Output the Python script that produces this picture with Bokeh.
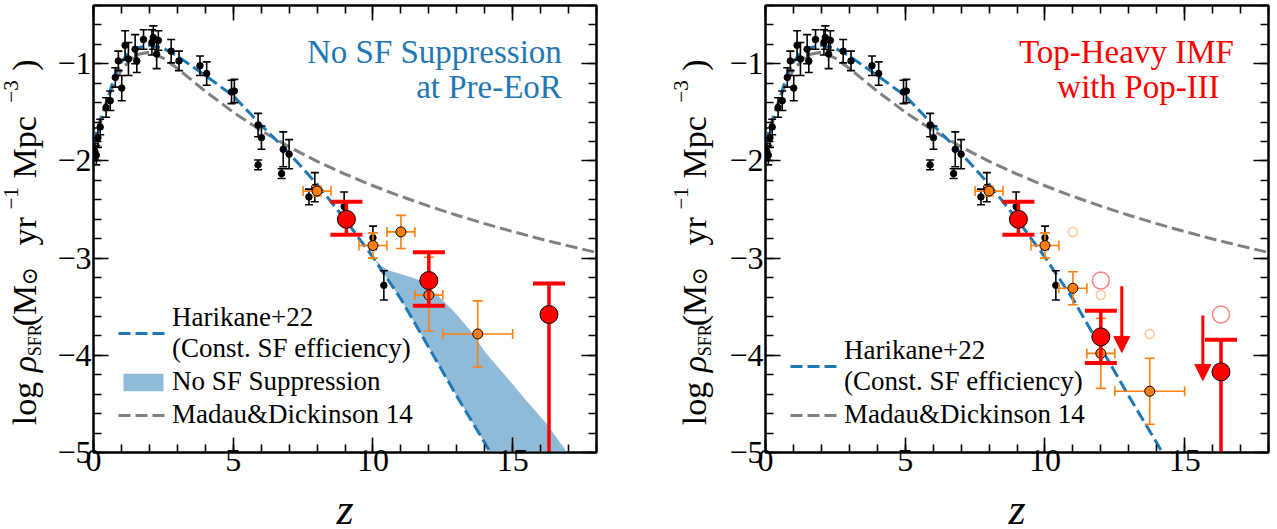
from bokeh.plotting import figure
from bokeh.models import (Range1d, LinearAxis, FixedTicker, CustomJSTickFormatter,
                          ColumnDataSource, Label, Legend, LegendItem, Arrow, NormalHead)
from bokeh.layouts import row, column
from bokeh.embed import file_html
from bokeh.resources import INLINE
import math

# ---------------- data ----------------
X_TICKS = [0, 5, 10, 15]
X_MINOR = [0, 1, 2, 3, 4, 5, 6, 7, 8, 9, 10, 11, 12, 13, 14, 15, 16, 17, 18]
Y_TICKS = [-5, -4, -3, -2, -1]
Y_MINOR = [-5.0, -4.8, -4.6, -4.4, -4.2, -4.0, -3.8, -3.6, -3.4, -3.2, -3.0, -2.8,
           -2.6, -2.4, -2.2, -2.0, -1.8, -1.6, -1.4, -1.2, -1.0, -0.8, -0.6, -0.4]

# Madau & Dickinson 14
md_z = [0, 0.25, 0.5, 0.75, 1.0, 1.5, 2.0, 2.5, 3.0, 4.0, 5.0, 6.0, 7.0, 8.0, 9.0,
        10.0, 11.0, 12.0, 13.0, 14.0, 15.0, 16.0, 17.0, 18.0]
md_y = [-1.825, -1.566, -1.359, -1.193, -1.062, -0.907, -0.880, -0.942, -1.047, -1.282,
        -1.498, -1.688, -1.855, -2.003, -2.135, -2.255, -2.364, -2.465, -2.558, -2.645,
        -2.726, -2.803, -2.874, -2.942]

# Harikane+22 (const. SF efficiency)
hk_z = [0, 0.25, 0.5, 0.75, 1.0, 1.25, 1.5, 2.0, 2.5, 3.0, 3.5, 4.0, 5.0, 6.0, 7.0,
        8.0, 9.0, 10.0, 11.0, 12.0, 13.0, 14.0, 14.5]
hk_y = [-1.82, -1.60, -1.37, -1.13, -0.98, -0.89, -0.84, -0.81, -0.84, -0.92, -1.02,
        -1.12, -1.33, -1.63, -1.92, -2.24, -2.60, -2.99, -3.42, -3.92, -4.42, -4.90, -5.15]

# No SF suppression band (upper edge; lower edge follows Harikane+22 from z=10)
band_up_z = [10.0, 10.3, 10.6, 11.2, 11.7, 12.3, 12.9, 13.5, 14.0, 14.8, 15.5, 16.2, 16.9, 17.1]
band_up_y = [-2.99, -3.08, -3.13, -3.18, -3.23, -3.38, -3.55, -3.75, -3.96, -4.23, -4.47,
             -4.70, -4.98, -5.10]

# literature compilation (black)
bk_z = [0.05, 0.10, 0.16, 0.24, 0.45, 0.60, 0.78, 0.89, 1.01, 1.13, 1.25, 1.49, 1.55,
        1.79, 2.09, 2.14, 2.26, 2.32, 2.78, 3.06, 3.81, 4.05, 4.94, 5.04, 5.89, 6.01,
        5.89, 6.73, 6.79, 7.00, 7.71, 7.92, 8.97, 10.00, 10.39]
bk_y = [-1.90, -1.94, -1.76, -1.65, -1.45, -1.38, -1.14, -0.97, -1.25, -0.81, -0.95,
        -0.85, -0.97, -0.75, -0.78, -0.73, -0.90, -0.76, -0.87, -0.97, -1.02, -1.10,
        -1.29, -1.28, -1.63, -1.76, -2.04, -2.13, -1.88, -1.93, -2.37, -2.27, -2.47,
        -2.79, -3.28]
bk_err = [0.08, 0.10, 0.10, 0.08, 0.10, 0.10, 0.10, 0.10, 0.13, 0.15, 0.17, 0.15, 0.12,
          0.10, 0.13, 0.12, 0.15, 0.10, 0.12, 0.10, 0.10, 0.12, 0.12, 0.12, 0.12, 0.12,
          0.05, 0.05, 0.18, 0.15, 0.08, 0.15, 0.15, 0.12, 0.15]

# orange points, left panel
orL_z = [8.0, 10.0, 11.0, 12.0, 13.75]
orL_y = [-2.31, -2.87, -2.73, -3.38, -3.78]
orL_xerr = [0.5, 0.5, 0.5, 0.5, 1.25]
orL_ylo = [0.05, 0.13, 0.17, 0.37, 0.34]
orL_yhi = [0.05, 0.13, 0.17, 0.39, 0.34]

# orange points, right panel
orR_z = [8.0, 10.0, 11.0, 12.0, 13.75]
orR_y = [-2.31, -2.87, -3.31, -3.98, -4.37]
orR_xerr = [0.5, 0.5, 0.5, 0.5, 1.25]
orR_ylo = [0.05, 0.13, 0.17, 0.36, 0.34]
orR_yhi = [0.05, 0.13, 0.17, 0.36, 0.34]

# faded previous positions (right panel)
fo_z = [11.0, 12.0, 13.75]
fo_y = [-2.73, -3.38, -3.78]
fr_z = [12.0, 16.3]
fr_y = [-3.23, -3.58]

# red points
redL_z = [9.05, 12.0, 16.3]
redL_y = [-2.60, -3.23, -3.58]
redL_lo = [0.16, 0.26, 2.0]
redL_hi = [0.18, 0.29, 0.32]

redR_z = [9.05, 12.0, 16.3]
redR_y = [-2.60, -3.81, -4.17]
redR_lo = [0.16, 0.27, 2.0]
redR_hi = [0.18, 0.27, 0.33]

# upper-limit arrows (right panel)
arr_z = [12.75, 15.65]
arr_y0 = [-3.29, -3.59]
arr_y1 = [-3.97, -4.26]

# ---------------- style ----------------
SERIF = "Liberation Serif"
BLUE = "#1f77b4"
GRAY = "#7f7f7f"
ORANGE = "#ff7f0e"
RED = "#ff0000"
BAND = "#8fbbd9"

TOP, FRAME_H, BOTTOM = 5, 447, 44
FRAME_W = 503
LAB1_W, P1_L, P1_R, LAB2_W, P2_L, P2_R = 46, 47, 40, 82, 47, 9
SHIFT = 0.41  # label anchor -> baseline offset, in em

MINUS_FMT = "return (tick < 0 ? '\\u2212' : '') + Math.abs(tick).toFixed(0);"
EMPTY_FMT = "return '';"


def style_axis(ax, ticks, minor, labels):
    ax.ticker = FixedTicker(ticks=ticks, minor_ticks=minor)
    ax.major_tick_in = 15
    ax.major_tick_out = 0
    ax.minor_tick_in = 8
    ax.minor_tick_out = 0
    ax.axis_line_width = 2
    ax.axis_line_color = "black"
    ax.major_tick_line_width = 1.6
    ax.minor_tick_line_width = 1.6
    ax.major_tick_line_color = "black"
    ax.minor_tick_line_color = "black"
    if labels:
        ax.formatter = CustomJSTickFormatter(code=MINUS_FMT)
        ax.major_label_text_font = SERIF
        ax.major_label_text_font_size = "32px"
        ax.major_label_text_color = "black"
    else:
        ax.formatter = CustomJSTickFormatter(code=EMPTY_FMT)
        ax.major_label_text_font_size = "0px"
        ax.major_label_standoff = 0


def ry(py):
    # vertical position (page pixels -> data)
    return -1 - (py - 63.1) / 97.3


def make_fig(left_border, right_border):
    p = figure(x_range=Range1d(0, 18), y_range=Range1d(-5, -0.4),
               frame_width=FRAME_W, frame_height=FRAME_H,
               min_border_left=left_border, min_border_right=right_border,
               min_border_top=TOP, min_border_bottom=BOTTOM,
               output_backend="svg", toolbar_location=None)
    p.grid.visible = False
    p.outline_line_color = "black"
    p.outline_line_width = 2
    p.background_fill_color = "white"
    p.border_fill_color = "white"
    style_axis(p.xaxis[0], X_TICKS, X_MINOR, True)
    p.xaxis[0].major_label_standoff = -3
    style_axis(p.yaxis[0], Y_TICKS, Y_MINOR, True)
    p.yaxis[0].major_label_standoff = 2
    top = LinearAxis()
    style_axis(top, X_TICKS, X_MINOR, False)
    p.add_layout(top, "above")
    right = LinearAxis()
    style_axis(right, Y_TICKS, Y_MINOR, False)
    p.add_layout(right, "right")
    return p


def make_label_fig(width, xb):
    """Narrow figure that only carries the rotated y-axis title."""
    lf = figure(x_range=Range1d(0, width), y_range=Range1d(-5, -0.4),
                frame_width=width, frame_height=FRAME_H,
                min_border_left=0, min_border_right=0,
                min_border_top=TOP, min_border_bottom=BOTTOM,
                x_axis_type=None, y_axis_type=None,
                output_backend="svg", toolbar_location=None)
    lf.grid.visible = False
    lf.outline_line_color = None
    lf.background_fill_color = "white"
    lf.border_fill_color = "white"
    # (text, start page-y, font px, style, baseline shift px, font)
    pieces = [
        ("log", 425, 34, "normal", 0, SERIF),
        ("\u03c1", 372, 34, "italic", 0, SERIF),
        ("SFR", 356, 18, "normal", 4, SERIF),
        ("(M", 326, 34, "normal", 0, SERIF),
        ("\u2299", 285, 22, "normal", 0, "DejaVu Serif"),
        ("yr", 245, 34, "normal", 0, SERIF),
        ("\u22121", 209, 21, "normal", -19, SERIF),
        ("Mpc", 178, 34, "normal", 0, SERIF),
        ("\u22123", 102, 21, "normal", -19, SERIF),
        (")", 70, 34, "normal", 0, SERIF),
    ]
    for txt, py, fs, style, dx, font in pieces:
        lf.add_layout(Label(x=xb + dx - SHIFT * fs, y=ry(py), text=txt,
                            angle=90, angle_units="deg",
                            text_align="left", text_baseline="alphabetic",
                            text_font=font, text_font_size=f"{fs}px",
                            text_font_style=style, text_color="black"))
    return lf


def add_common(p, with_band):
    band_r = None
    if with_band:
        lower_z = [z for z in hk_z if z >= 10.0]
        lower_y = [y for z, y in zip(hk_z, hk_y) if z >= 10.0]
        band_r = p.patch(x=band_up_z + lower_z[::-1], y=band_up_y + lower_y[::-1],
                         fill_color=BAND, line_alpha=0)
    md_r = p.line(md_z, md_y, line_color=GRAY, line_width=3, line_dash="12 5")
    hk_r = p.line(hk_z, hk_y, line_color=BLUE, line_width=3, line_dash="12 5")

    lo = [y - e for y, e in zip(bk_y, bk_err)]
    hi = [y + e for y, e in zip(bk_y, bk_err)]
    p.segment(x0=bk_z, y0=lo, x1=bk_z, y1=hi, line_color="black", line_width=1.6)
    p.scatter(bk_z + bk_z, lo + hi, marker="dash", size=8, line_color="black", line_width=1.6)
    p.scatter(bk_z, bk_y, marker="circle", size=6.5, fill_color="black", line_color="black")
    return hk_r, md_r, band_r


def add_orange(p, z, y, xerr, ylo, yhi):
    x0 = [a - e for a, e in zip(z, xerr)]
    x1 = [a + e for a, e in zip(z, xerr)]
    y0 = [a - e for a, e in zip(y, ylo)]
    y1 = [a + e for a, e in zip(y, yhi)]
    p.segment(x0=x0, y0=y, x1=x1, y1=y, line_color=ORANGE, line_width=1.6)
    p.segment(x0=z, y0=y0, x1=z, y1=y1, line_color=ORANGE, line_width=1.6)
    p.scatter(x0 + x1, y + y, marker="dash", angle=math.pi / 2, size=10,
              line_color=ORANGE, line_width=1.6)
    p.scatter(z + z, y0 + y1, marker="dash", size=10, line_color=ORANGE, line_width=1.6)
    p.scatter(z, y, marker="circle", size=10, fill_color=ORANGE, line_color="black",
              line_width=1)


def add_red(p, z, y, lo, hi):
    y0 = [a - e for a, e in zip(y, lo)]
    y1 = [a + e for a, e in zip(y, hi)]
    p.segment(x0=z, y0=y0, x1=z, y1=y1, line_color=RED, line_width=3.5)
    p.scatter(z + z, y0 + y1, marker="dash", size=32, line_color=RED, line_width=4)
    p.scatter(z, y, marker="circle", size=18, fill_color=RED, line_color="black",
              line_width=1)


def add_legend(p, items):
    leg = Legend(items=items, location=(25, 22), glyph_width=50, glyph_height=22,
                 label_standoff=4, padding=0, margin=0, spacing=2,
                 border_line_alpha=0, background_fill_alpha=0,
                 label_text_font=SERIF, label_text_font_size="27px",
                 label_text_line_height=1.0, label_text_color="black")
    p.add_layout(leg)


def add_title(p, lines, color):
    fs = 33
    for txt, py, xr in lines:
        p.add_layout(Label(x=xr, y=ry(py - SHIFT * fs), text=txt, text_align="right",
                           text_baseline="alphabetic", text_font=SERIF,
                           text_font_size=f"{fs}px", text_color=color))


# ---------------- left panel ----------------
lab1 = make_label_fig(LAB1_W, 38)
p1 = make_fig(P1_L, P1_R)
hk1, md1, band1 = add_common(p1, True)
add_orange(p1, orL_z, orL_y, orL_xerr, orL_ylo, orL_yhi)
add_red(p1, redL_z, redL_y, redL_lo, redL_hi)
add_title(p1, [("No SF Suppression", 65, 16.76), ("at Pre-EoR", 100, 16.76)], BLUE)
add_legend(p1, [LegendItem(label="Harikane+22\n(Const. SF efficiency)", renderers=[hk1]),
                LegendItem(label="No SF Suppression", renderers=[band1]),
                LegendItem(label="Madau&Dickinson 14", renderers=[md1])])

# ---------------- right panel ----------------
lab2 = make_label_fig(LAB2_W, 72)
p2 = make_fig(P2_L, P2_R)
hk2, md2, _ = add_common(p2, False)
p2.scatter(fo_z, fo_y, marker="circle", size=9, fill_alpha=0, line_color=ORANGE,
           line_alpha=0.45, line_width=1.5)
p2.scatter(fr_z, fr_y, marker="circle", size=17, fill_alpha=0, line_color=RED,
           line_alpha=0.5, line_width=1.5)
add_orange(p2, orR_z, orR_y, orR_xerr, orR_ylo, orR_yhi)
arr_src = ColumnDataSource(dict(x0=arr_z, y0=arr_y0, x1=arr_z, y1=arr_y1))
p2.add_layout(Arrow(end=NormalHead(size=16, fill_color=RED, line_color=RED),
                    x_start="x0", y_start="y0", x_end="x1", y_end="y1",
                    source=arr_src, line_color=RED, line_width=3))
add_red(p2, redR_z, redR_y, redR_lo, redR_hi)
add_title(p2, [("Top-Heavy IMF", 65, 16.76), ("with Pop-III", 100, 16.25)], RED)
add_legend(p2, [LegendItem(label="Harikane+22\n(Const. SF efficiency)", renderers=[hk2]),
                LegendItem(label="Madau&Dickinson 14", renderers=[md2])])

# ---------------- x-axis titles strip ----------------
STRIP_H = 529 - (TOP + FRAME_H + BOTTOM)
strip = figure(x_range=Range1d(0, 1277), y_range=Range1d(0, STRIP_H),
               frame_width=1277, frame_height=STRIP_H,
               min_border_left=0, min_border_right=0, min_border_top=0, min_border_bottom=0,
               x_axis_type=None, y_axis_type=None,
               output_backend="svg", toolbar_location=None)
strip.grid.visible = False
strip.outline_line_color = None
strip.background_fill_color = "white"
strip.border_fill_color = "white"
ZFS = 44
x_left = LAB1_W + P1_L + FRAME_W / 2
x_right = LAB1_W + P1_L + FRAME_W + P1_R + LAB2_W + P2_L + FRAME_W / 2
for xc in (x_left, x_right):
    strip.add_layout(Label(x=xc, y=1.5 + SHIFT * ZFS, text="z", text_align="center",
                           text_baseline="alphabetic", text_font=SERIF,
                           text_font_style="italic", text_font_size=f"{ZFS}px",
                           text_color="black"))

layout = column(row(lab1, p1, lab2, p2), strip)
open("out.html", "w").write(file_html(layout, INLINE))
